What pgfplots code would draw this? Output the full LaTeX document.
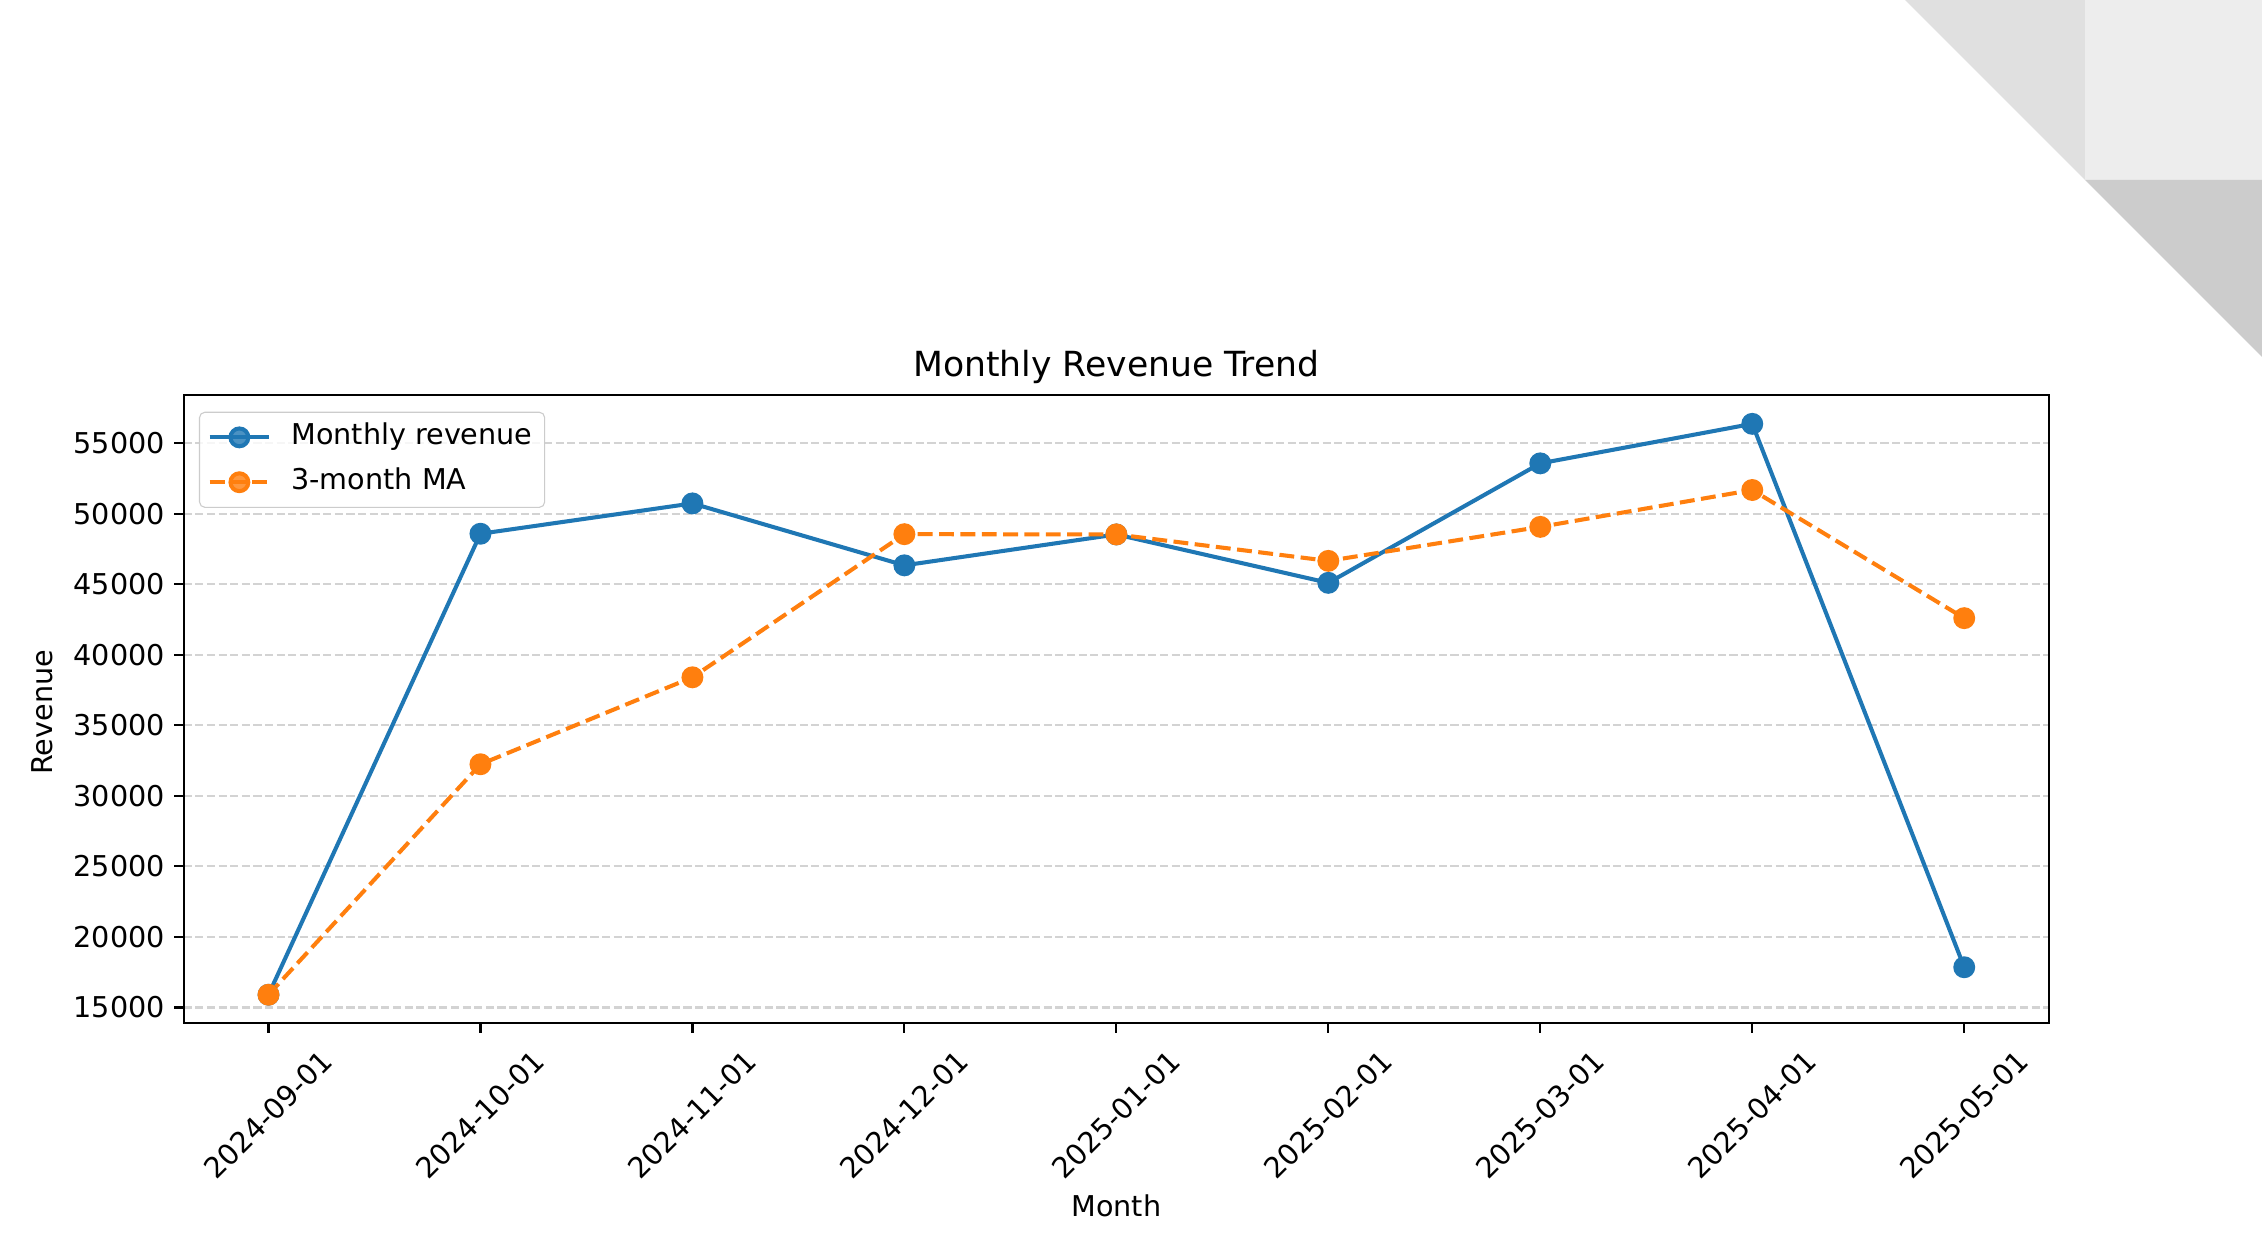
\documentclass[border=0pt]{standalone}
\usepackage{fontspec}
\setmainfont{DejaVu Sans}
\usepackage{pgfplots}
\pgfplotsset{compat=1.18}

\definecolor{mplblue}{HTML}{1F77B4}
\definecolor{mplorange}{HTML}{FF7F0E}
\definecolor{gridgray}{HTML}{D3D3D3}
\definecolor{legedge}{HTML}{CCCCCC}

% monthly revenue and its 3-month moving average
\pgfplotstableread{
x rev ma
0 15900 15900
1 48580 32240
2 50730 38403
3 46340 48550
4 48530 48533
5 45100 46657
6 53570 49067
7 56370 51680
8 17850 42597
}\revdata

\begin{document}
\begin{tikzpicture}
% page: 2262 x 1254 px, 1 px = 0.37pt
\useasboundingbox (0,0) rectangle (836.94pt,463.98pt);
\fill[white] (0,0) rectangle (836.94pt,463.98pt);
\begin{scope}[x=0.37pt, y=-0.37pt, shift={(0,463.98pt)}]
  \fill[black!12] (1905,0) -- (2085,0) -- (2085,180) -- cycle;
  \fill[black!7] (2085,0) rectangle (2262,180);
  \fill[black!20] (2085,180) -- (2262,180) -- (2262,357) -- cycle;
\end{scope}

\begin{axis}[
  at={(67.97pt,85.36pt)}, anchor=south west,
  scale only axis,
  width=690.16pt, height=232.36pt,
  xmin=-0.4, xmax=8.4,
  ymin=13876, ymax=58394,
  xtick={0,...,8},
  xticklabels={2024-09-01,2024-10-01,2024-11-01,2024-12-01,2025-01-01,2025-02-01,2025-03-01,2025-04-01,2025-05-01},
  ytick={15000,20000,...,55000},
  scaled y ticks=false,
  /pgf/number format/assume math mode=true,
  /pgf/number format/1000 sep={},
  tick align=outside,
  xtick pos=lower, ytick pos=left,
  major tick length=3.5pt,
  tick style={line width=0.8pt, black},
  axis line style={line width=0.8pt},
  ymajorgrids,
  major grid style={gridgray, line width=0.8pt, dash pattern=on 3pt off 1.3pt},
  tick label style={font=\fontsize{10.6}{12}\selectfont},
  xticklabel style={yshift=-30.3pt, rotate=45, anchor=center},
  title={Monthly Revenue Trend},
  title style={at={(axis description cs:0.5,1)}, anchor=base, yshift=0.9pt, font=\fontsize{12.8}{15}\selectfont},
  xlabel={Month},
  xlabel style={at={(axis description cs:0.5,-0.308)}, anchor=base, font=\fontsize{10.6}{12}\selectfont},
  ylabel={Revenue},
  ylabel style={at={(axis description cs:-0.0701,0.495)}, anchor=base, font=\fontsize{10.6}{12}\selectfont},
  legend cell align=left,
  legend image code/.code={\draw[mark repeat=2, mark phase=2] plot coordinates {(0pt,0pt) (11pt,0pt) (22pt,0pt)};},
  legend style={at={(0.0082,0.9739)}, anchor=north west,
    draw=legedge, rounded corners=2pt, fill=white, fill opacity=0.8, text opacity=1,
    font=\fontsize{10.6}{12}\selectfont,
    inner xsep=3pt, inner ysep=3pt, row sep=4pt, column sep=6pt,
    nodes={inner sep=1.5pt, text height=7.6pt, text depth=2pt}},
]
\addplot[mplblue, line width=1.5pt, mark=*, mark size=3.3pt] table[x=x, y=rev] {\revdata};
\addlegendentry{Monthly revenue}
\addplot[mplorange, line width=1.5pt, dash pattern=on 5.5pt off 2.4pt, mark=*, mark size=3.3pt, mark options={solid}] table[x=x, y=ma] {\revdata};
\addlegendentry{3-month MA}
\end{axis}
\end{tikzpicture}
\end{document}
